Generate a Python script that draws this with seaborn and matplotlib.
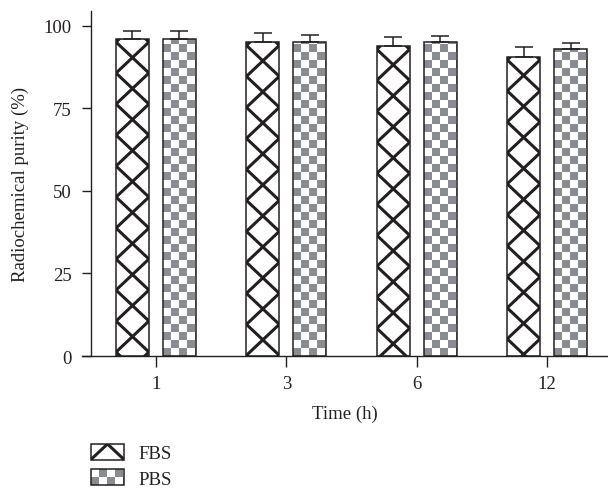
import matplotlib
matplotlib.use('Agg')
import matplotlib.pyplot as plt
from matplotlib.collections import LineCollection, PatchCollection
from matplotlib.patches import Rectangle, Patch
import numpy as np
import pandas as pd
import seaborn as sns

times = ['1', '3', '6', '12']
media = ['FBS', 'PBS']
fbs = [96.0, 95.0, 93.8, 90.6]
pbs = [96.1, 95.1, 95.0, 92.9]
fbs_err = [2.5, 2.8, 2.8, 3.0]
pbs_err = [2.3, 2.2, 1.9, 1.9]

ink = '#231f20'
grey = '#8a8c94'


def cross_lines(x0, w, bottom, top, period, edge_y):
    # diagonals that meet on the bar edges every `period`
    k = np.arange(np.floor((bottom - edge_y) / period) - 1,
                  np.ceil((top - edge_y) / period) + 2)
    ye = edge_y + k * period
    down = [[(x0, y), (x0 + w, y - period)] for y in ye]
    up = [[(x0 + w, y), (x0, y - period)] for y in ye]
    return down + up


def checker(x0, w, bottom, top, sx, sy, **kw):
    cols = int(np.ceil(w / sx))
    rows = int(np.ceil((top - bottom) / sy))
    sq = [Rectangle((x0 + i * sx, bottom + j * sy), sx, sy)
          for i in range(cols) for j in range(rows) if (i + j) % 2 == 0]
    return PatchCollection(sq, facecolor=grey, edgecolor='none', **kw)


class CrossHandler:
    def legend_artist(self, legend, orig_handle, fontsize, handlebox):
        x0, y0 = -handlebox.xdescent, -handlebox.ydescent
        w, h = handlebox.width, handlebox.height
        tr = handlebox.get_transform()
        face = Rectangle((x0, y0), w, h, facecolor='white', edgecolor='none', transform=tr)
        handlebox.add_artist(face)
        p = 31 * 0.72
        lc = LineCollection(cross_lines(x0, w, y0, y0 + h, p, y0 + h - p / 2),
                            colors=ink, linewidths=2.2, transform=tr)
        handlebox.add_artist(lc)
        lc.set_clip_path(face)
        edge = Rectangle((x0, y0), w, h, facecolor='none', edgecolor=ink, lw=1.1, transform=tr)
        handlebox.add_artist(edge)
        return edge


class CheckerHandler:
    def legend_artist(self, legend, orig_handle, fontsize, handlebox):
        x0, y0 = -handlebox.xdescent, -handlebox.ydescent
        w, h = handlebox.width, handlebox.height
        tr = handlebox.get_transform()
        face = Rectangle((x0, y0), w, h, facecolor='white', edgecolor='none', transform=tr)
        handlebox.add_artist(face)
        s = 8 * 0.72
        pc = checker(x0, w, y0, y0 + h, s, s, transform=tr)
        handlebox.add_artist(pc)
        pc.set_clip_path(face)
        edge = Rectangle((x0, y0), w, h, facecolor='none', edgecolor=ink, lw=1.1, transform=tr)
        handlebox.add_artist(edge)
        return edge


sns.set_style('ticks')
plt.rcParams['font.family'] = ['Liberation Serif', 'DejaVu Serif']

df = pd.DataFrame({
    'time': times * 2,
    'medium': ['FBS'] * len(times) + ['PBS'] * len(times),
    'purity': fbs + pbs,
})

W, H = 608, 489
fig = plt.figure(figsize=(W / 100, H / 100), dpi=100)
ax = fig.add_axes([82 / W, 1 - 357 / H, 526 / W, 345 / H])

sns.barplot(data=df, x='time', y='purity', hue='medium', order=times, hue_order=media,
            palette={'FBS': 'white', 'PBS': 'white'}, width=0.72, gap=0.3,
            edgecolor=ink, linewidth=1.1, errorbar=None, legend=False, ax=ax)

ax.set_xlim(-0.567, 3.467)
ax.set_ylim(0, 104.5)

# data units per pixel
dx = (ax.get_xlim()[1] - ax.get_xlim()[0]) / ax.bbox.width
dy = (ax.get_ylim()[1] - ax.get_ylim()[0]) / ax.bbox.height

for cont, errs in zip(ax.containers, [fbs_err, pbs_err]):
    xs = [p.get_x() + p.get_width() / 2 for p in cont.patches]
    ys = [p.get_height() for p in cont.patches]
    ax.errorbar(xs, ys, yerr=[np.zeros(len(errs)), errs], fmt='none', ecolor=ink,
                elinewidth=1.1, capsize=6.8, capthick=1.1, zorder=4)

for p in ax.containers[0].patches:
    x0, w, top = p.get_x(), p.get_width(), p.get_height()
    period = 31 * dy
    lc = LineCollection(cross_lines(x0, w, 0, top, period, top - 3 * dy),
                        colors=ink, linewidths=2.2, zorder=2)
    ax.add_collection(lc)
    lc.set_clip_path(p)
    p.set_facecolor('none')
    p.set_zorder(3)

for p in ax.containers[1].patches:
    x0, w, top = p.get_x(), p.get_width(), p.get_height()
    pc = checker(x0, w, 0, top, 8 * dx, 8 * dy, zorder=2)
    ax.add_collection(pc)
    pc.set_clip_path(p)
    p.set_facecolor('none')
    p.set_zorder(3)

ax.set_xlim(-0.567, 3.467)
ax.set_ylim(0, 104.5)
ax.spines['top'].set_visible(False)
ax.spines['right'].set_visible(False)
ax.spines['left'].set_position(('data', -0.5))
for s in ['left', 'bottom']:
    ax.spines[s].set_color(ink)
    ax.spines[s].set_linewidth(1.0)

fs = 13.5
ax.set_yticks([0, 25, 50, 75, 100])
ax.tick_params(axis='y', length=6.5, width=1.0, color=ink, pad=7, labelsize=fs, labelcolor=ink)
ax.tick_params(axis='x', length=8, width=1.0, color=ink, pad=6, labelsize=fs, labelcolor=ink)
ax.set_xlabel('Time (h)', fontsize=fs, color=ink, labelpad=9)
ax.set_ylabel('Radiochemical purity (%)', fontsize=fs, color=ink, labelpad=11)

handles = [Patch(label='FBS'), Patch(label='PBS')]
fig.legend(handles=handles, labels=media,
           handler_map={handles[0]: CrossHandler(), handles[1]: CheckerHandler()},
           loc='upper left', bbox_to_anchor=(91 / W, 1 - 445 / H), frameon=False,
           fontsize=fs, handlelength=1.76, handleheight=0.92, handletextpad=0.75,
           labelspacing=0.38, borderpad=0, borderaxespad=0, labelcolor=ink)

fig.savefig('out.png', dpi=100)
